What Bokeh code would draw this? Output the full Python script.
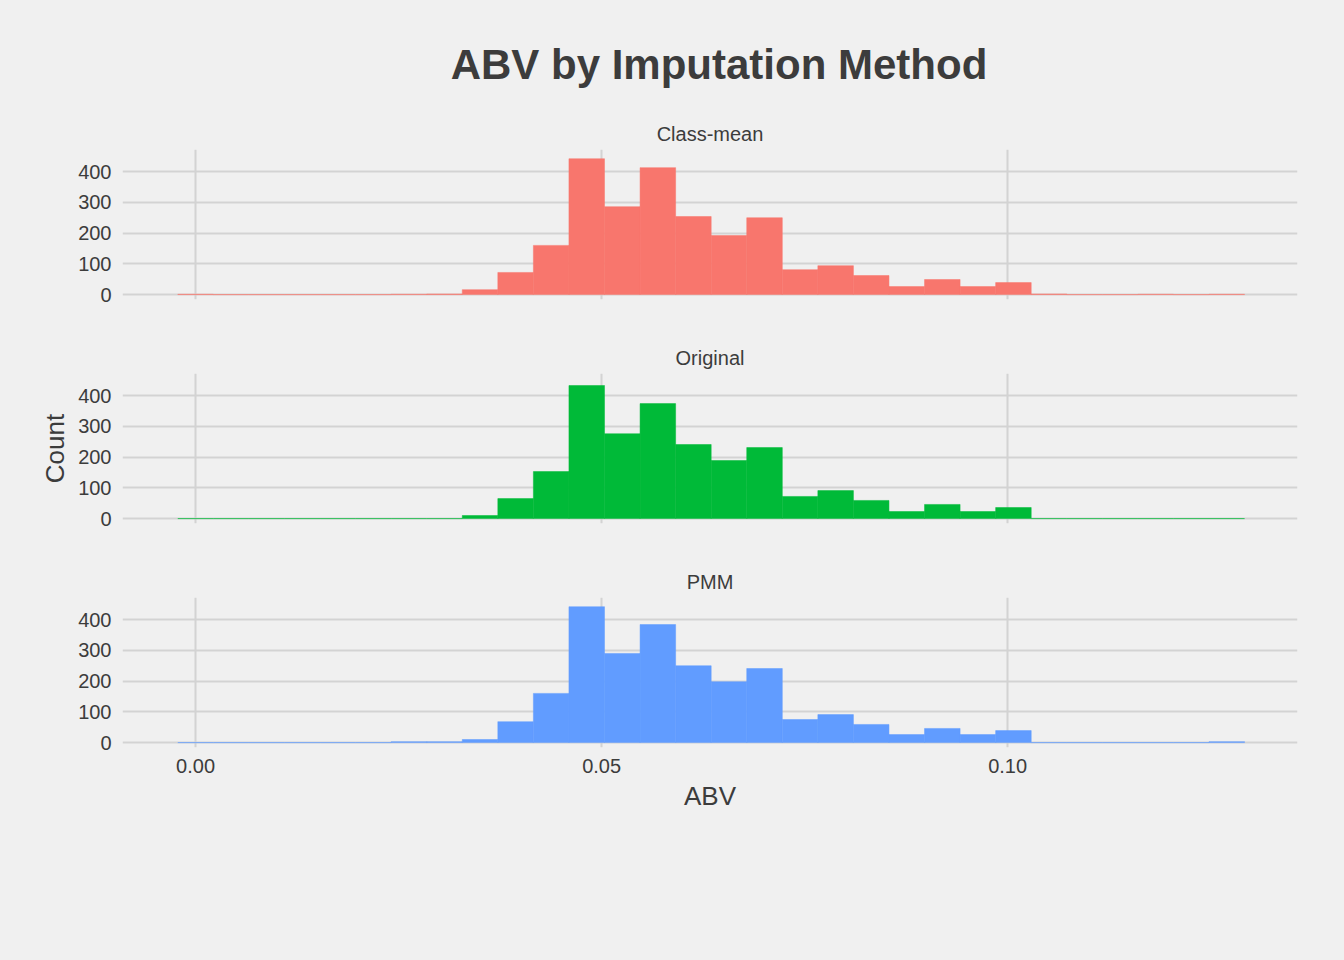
from bokeh.plotting import figure
from bokeh.layouts import column
from bokeh.models import Div, Legend, LegendItem, ColumnDataSource, FixedTicker, NumeralTickFormatter, Range1d
from bokeh.embed import file_html
from bokeh.resources import INLINE

BIN_W = 0.004379
k = list(range(30))
centers = [i * BIN_W for i in k]
class_mean = [1,0,0,0,0,0,1,2,16,72,160,442,286,413,254,192,250,81,94,62,26,49,26,39,2,0,0,1,0,1]
original   = [0,0,0,0,0,0,0,0,10,65,153,433,276,374,241,189,231,72,91,59,23,46,23,36,0,0,0,0,0,0]
pmm        = [0,0,0,0,0,0,3,3,10,68,160,442,290,384,250,198,241,75,91,59,26,46,26,39,0,0,0,0,0,3]
methods = ["Class-mean", "Original", "PMM"]
colors = ["#F8766D", "#00BA38", "#619CFF"]
series = [class_mean, original, pmm]
y_ticks = [0, 100, 200, 300, 400]
x_ticks = [0.0, 0.05, 0.10]

BG = "#f0f0f0"
TXT = "#3c3c3c"
xr = Range1d(-0.009, 0.1357)
figs = []
for idx, (m, c, vals) in enumerate(zip(methods, colors, series)):
    last = idx == 2
    p = figure(frame_width=1175, frame_height=150, x_range=xr, y_range=Range1d(-16, 472),
               output_backend="svg", toolbar_location=None, title=m,
               background_fill_color=BG, border_fill_color=BG,
               min_border_left=122, min_border_right=31, min_border_top=0,
               min_border_bottom=(40 if not last else 10))
    p.outline_line_color = None
    p.title.align = "center"
    p.title.text_font = "Liberation Sans"
    p.title.text_font_size = "20px"
    p.title.text_font_style = "normal"
    p.title.text_color = TXT
    src = ColumnDataSource(dict(l=[x - BIN_W/2 for x in centers], r=[x + BIN_W/2 for x in centers], t=vals))
    p.quad(left="l", right="r", top="t", bottom=0, source=src, fill_color=c, line_color=c, line_width=0.5)
    for ax in (p.xaxis, p.yaxis):
        ax.axis_line_color = None
        ax.major_tick_line_color = None
        ax.minor_tick_line_color = None
        ax.major_label_text_font = "Liberation Sans"
        ax.major_label_text_font_size = "20px"
        ax.major_label_text_color = TXT
        ax.axis_label_text_font = "Liberation Sans"
        ax.axis_label_text_font_size = "26px"
        ax.axis_label_text_font_style = "normal"
        ax.axis_label_text_color = TXT
    p.yaxis.ticker = FixedTicker(ticks=y_ticks)
    p.xaxis.ticker = FixedTicker(ticks=x_ticks)
    p.xaxis.formatter = NumeralTickFormatter(format="0.00")
    p.grid.grid_line_color = "#d3d3d3"
    p.grid.grid_line_width = 2
    if idx == 1:
        p.yaxis.axis_label = "Count"
    if not last:
        p.xaxis.major_label_text_color = None
    else:
        p.xaxis.axis_label = "ABV"
        items = []
        head = p.quad(left=[], right=[], top=[], bottom=[], fill_alpha=0, line_alpha=0)
        items.append(LegendItem(label="Method", renderers=[head]))
        for m2, c2 in zip(methods, colors):
            r = p.quad(left=[], right=[], top=[], bottom=[], fill_color=c2, line_color=None)
            items.append(LegendItem(label=m2, renderers=[r]))
        leg = Legend(items=items, orientation="horizontal",
                     background_fill_color=BG, border_line_color=None,
                     label_text_font="Liberation Sans", label_text_font_size="23px", label_text_color=TXT,
                     glyph_width=42, glyph_height=42, spacing=10, label_standoff=18,
                     margin=0, padding=0, location="center")
        p.add_layout(leg, "below")
        leg.margin = 0
        p.min_border_bottom = 60
    figs.append(p)

title = Div(text="ABV by Imputation Method", width=1328, height=105,
            styles={"font-family": "Liberation Sans", "font-size": "42px", "font-weight": "bold",
                    "color": TXT, "text-align": "center", "padding-top": "30px", "width": "1328px",
                    "padding-left": "100px"})
lay = column(title, *figs, styles={"background-color": BG}, spacing=0)
html = file_html(lay, INLINE)
html = html.replace("<body>", '<body style="background-color:#f0f0f0">')
open("out.html", "w").write(html)
